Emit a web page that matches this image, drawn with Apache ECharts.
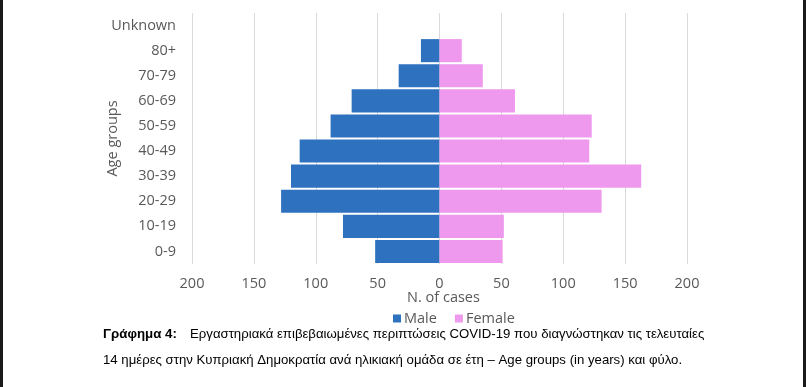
<!DOCTYPE html>
<html><head><meta charset="utf-8">
<script src="https://cdn.jsdelivr.net/npm/echarts@6/dist/echarts.min.js"></script>
<style>
html,body{margin:0;padding:0;background:#fff;}
#c{width:806px;height:387px;}
#l{position:absolute;left:0;top:0;width:3px;height:387px;background:#1a1a1a;}
#r{position:absolute;left:803px;top:0;width:3px;height:387px;background:#1a1a1a;}
</style></head>
<body><div id="c"></div><div id="l"></div><div id="r"></div>
<script>
var categories = ['0-9','10-19','20-29','30-39','40-49','50-59','60-69','70-79','80+','Unknown'];
var male = [52, 78, 128, 120, 113, 88, 71, 33, 15, 0];
var female = [51, 52, 131, 163, 121, 123, 61, 35, 18, 0];
var xTicks = [-200, -150, -100, -50, 0, 50, 100, 150, 200];
var captionBold = 'Γράφημα 4:';
var captionLine1 = 'Εργαστηριακά επιβεβαιωμένες περιπτώσεις COVID-19 που διαγνώστηκαν τις τελευταίες';
var captionLine2 = '14 ημέρες στην Κυπριακή Δημοκρατία ανά ηλικιακή ομάδα σε έτη – Age groups (in years) και φύλο.';

var chart = echarts.init(document.getElementById('c'), null, {renderer:'canvas'});
var font = "'Open Sans', sans-serif";
var gray = '#595959';
chart.setOption({
  animation:false,
  textStyle:{fontFamily:font},
  grid:{left:192, width:495, top:13, height:251, containLabel:false},
  xAxis:{
    type:'value', min:xTicks[0], max:xTicks[xTicks.length-1], interval:50,
    axisLine:{show:false}, axisTick:{show:false},
    splitLine:{lineStyle:{color:'#d9d9d9', width:1}},
    axisLabel:{color:gray, fontSize:14.5, fontFamily:font, margin:12, formatter:function(v){return Math.abs(v);}},
    name:'N. of cases', nameLocation:'middle', nameGap:26, nameMoveOverlap:false,
    nameTextStyle:{color:gray, fontSize:14.5, fontFamily:font, padding:[0,0,0,8]}
  },
  yAxis:{
    type:'category', data:categories,
    axisLine:{show:false}, axisTick:{show:false},
    axisLabel:{color:gray, fontSize:14.5, fontFamily:font, margin:16},
    name:'Age groups', nameLocation:'middle', nameGap:72, nameRotate:90, nameMoveOverlap:false,
    nameTextStyle:{color:gray, fontSize:14.5, fontFamily:font}
  },
  legend:{
    data:['Male','Female'], top:311, left:393, itemWidth:8, itemHeight:8, itemGap:18,
    icon:'rect', padding:0,
    textStyle:{color:gray, fontSize:14.5, fontFamily:font, padding:[0,0,0,-2]}
  },
  series:[
    {name:'Male', type:'bar', stack:'t', data:male.map(function(v){return -v;}),
     barCategoryGap:'8%', itemStyle:{color:'#2e72bf'}},
    {name:'Female', type:'bar', stack:'t', data:female,
     barCategoryGap:'8%', itemStyle:{color:'#ee99ee'}}
  ],
  graphic:[
    {type:'text', left:103, top:328, style:{text:captionBold, font:"bold 13.3px 'Liberation Sans', Arial, sans-serif", fill:'#000'}},
    {type:'text', left:190, top:328, style:{text:captionLine1, font:"13.2px 'Liberation Sans', Arial, sans-serif", fill:'#000'}},
    {type:'text', left:103, top:354, style:{text:captionLine2, font:"13.2px 'Liberation Sans', Arial, sans-serif", fill:'#000'}}
  ]
});
</script></body></html>
